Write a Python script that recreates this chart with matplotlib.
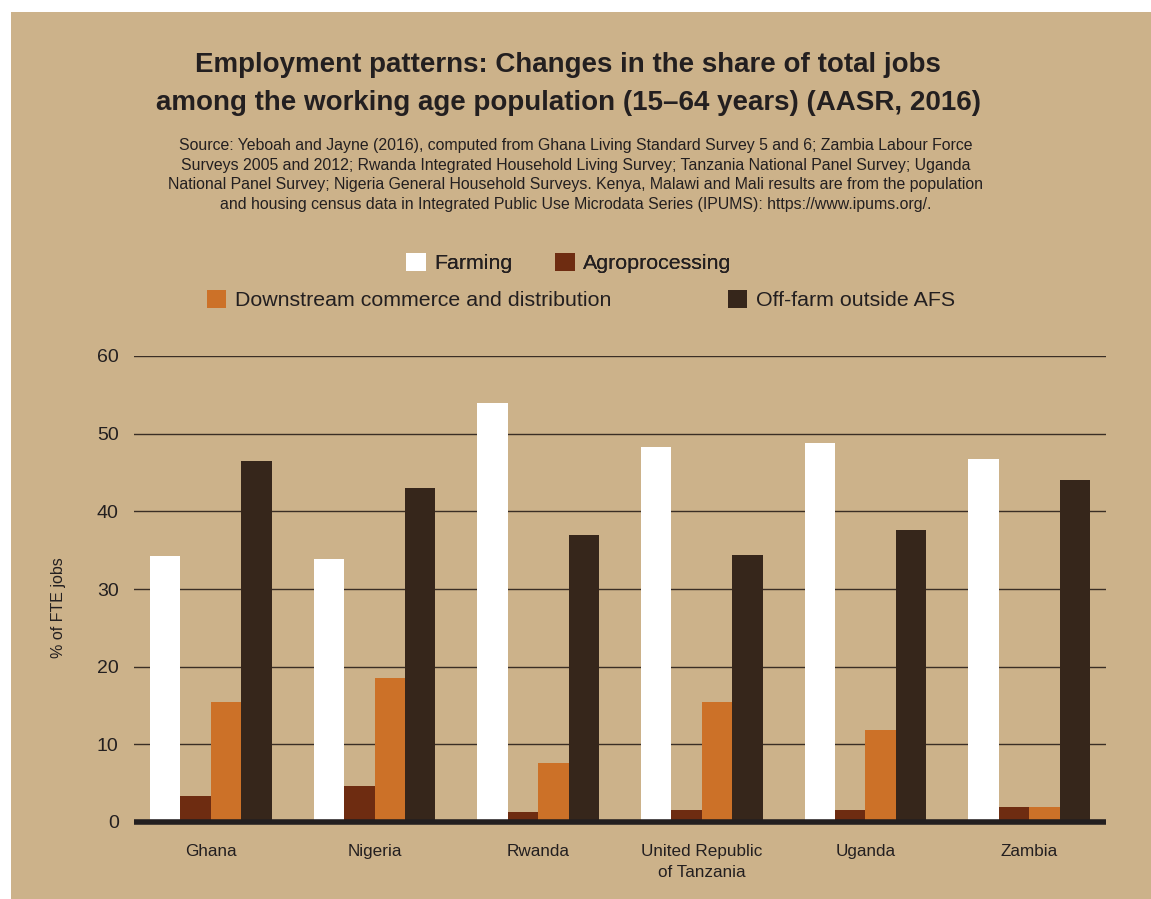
import numpy as np
import matplotlib.pyplot as plt
from matplotlib.patches import Rectangle, Patch

countries = ["Ghana", "Nigeria", "Rwanda", "United Republic\nof Tanzania", "Uganda", "Zambia"]
farming = [34.3, 33.9, 53.9, 48.3, 48.8, 46.7]
agroprocessing = [3.3, 4.6, 1.25, 1.5, 1.5, 1.9]
downstream = [15.5, 18.5, 7.6, 15.5, 11.9, 1.9]
off_farm = [46.5, 43.0, 36.9, 34.4, 37.6, 44.0]

series_names = ["Farming", "Agroprocessing", "Downstream commerce and distribution", "Off-farm outside AFS"]
colors = ["#ffffff", "#6e2c11", "#cc7128", "#36261b"]

bg = "#ccb28a"
txt = "#231f20"

plt.rcParams['font.family'] = ['Liberation Sans', 'DejaVu Sans']

fig = plt.figure(figsize=(11.51, 8.99), dpi=100)
fig.patch.set_facecolor("white")
fig.patches.append(Rectangle((11 / 1151, 0), 1 - 11 / 1151, 1 - 12 / 899,
                             transform=fig.transFigure, facecolor=bg, edgecolor="none", zorder=-10))

ax = fig.add_axes([134 / 1151, 1 - 822 / 899, 972 / 1151, 466 / 899])
ax.patch.set_alpha(0)

x = np.arange(len(countries))
w = 0.186
data = [farming, agroprocessing, downstream, off_farm]
for i, (vals, c) in enumerate(zip(data, colors)):
    ax.bar(x + (i - 1.5) * w, vals, width=w, color=c, zorder=2, linewidth=0)

ax.set_xlim(-0.47, 5.47)
ax.set_ylim(0, 60)
ax.set_yticks(range(0, 61, 10))
for v in range(10, 61, 10):
    ax.axhline(v, color="#3a2e25", lw=1.0, zorder=1)
ax.axhline(0, color=txt, lw=4.0, zorder=3, clip_on=False, solid_capstyle="butt")

for s in ax.spines.values():
    s.set_visible(False)
ax.tick_params(axis="both", length=0)
ax.tick_params(axis="y", labelsize=14, pad=11, colors=txt)
ax.tick_params(axis="x", labelsize=12.3, pad=16, colors=txt)
ax.set_xticks(x)
ax.set_xticklabels(countries, linespacing=1.5)

ax.set_ylabel("% of FTE jobs", fontsize=11.5, color=txt)
ax.yaxis.set_label_coords(-0.07, 0.46)

fig.text(0.4935, 1 - 84 / 899,
         "Employment patterns: Changes in the share of total jobs\namong the working age population (15\u201364 years) (AASR, 2016)",
         ha="center", va="center", fontsize=20, fontweight="bold", color=txt, linespacing=1.6)

source = ("Source: Yeboah and Jayne (2016), computed from Ghana Living Standard Survey 5 and 6; Zambia Labour Force\n"
          "Surveys 2005 and 2012; Rwanda Integrated Household Living Survey; Tanzania National Panel Survey; Uganda\n"
          "National Panel Survey; Nigeria General Household Surveys. Kenya, Malawi and Mali results are from the population\n"
          "and housing census data in Integrated Public Use Microdata Series (IPUMS): https://www.ipums.org/.")
fig.text(0.5, 1 - 175 / 899, source, ha="center", va="center", fontsize=11.4, color=txt, linespacing=1.38)

handles = [Patch(facecolor=c, edgecolor="none") for c in colors]
leg1 = fig.legend(handles[:2], series_names[:2], loc="center", bbox_to_anchor=(569 / 1151, 1 - 263 / 899),
                  ncol=2, frameon=False, fontsize=15.4, handlelength=0.9, handleheight=0.9,
                  handletextpad=0.4, columnspacing=2.0, labelcolor=txt)
leg2 = fig.legend(handles[2:], series_names[2:], loc="center", bbox_to_anchor=(581 / 1151, 1 - 300 / 899),
                  ncol=2, frameon=False, fontsize=15.4, handlelength=0.9, handleheight=0.9,
                  handletextpad=0.4, columnspacing=5.45, labelcolor=txt)
fig.add_artist(leg1)

fig.savefig("out.png", dpi=100, facecolor=fig.get_facecolor())
